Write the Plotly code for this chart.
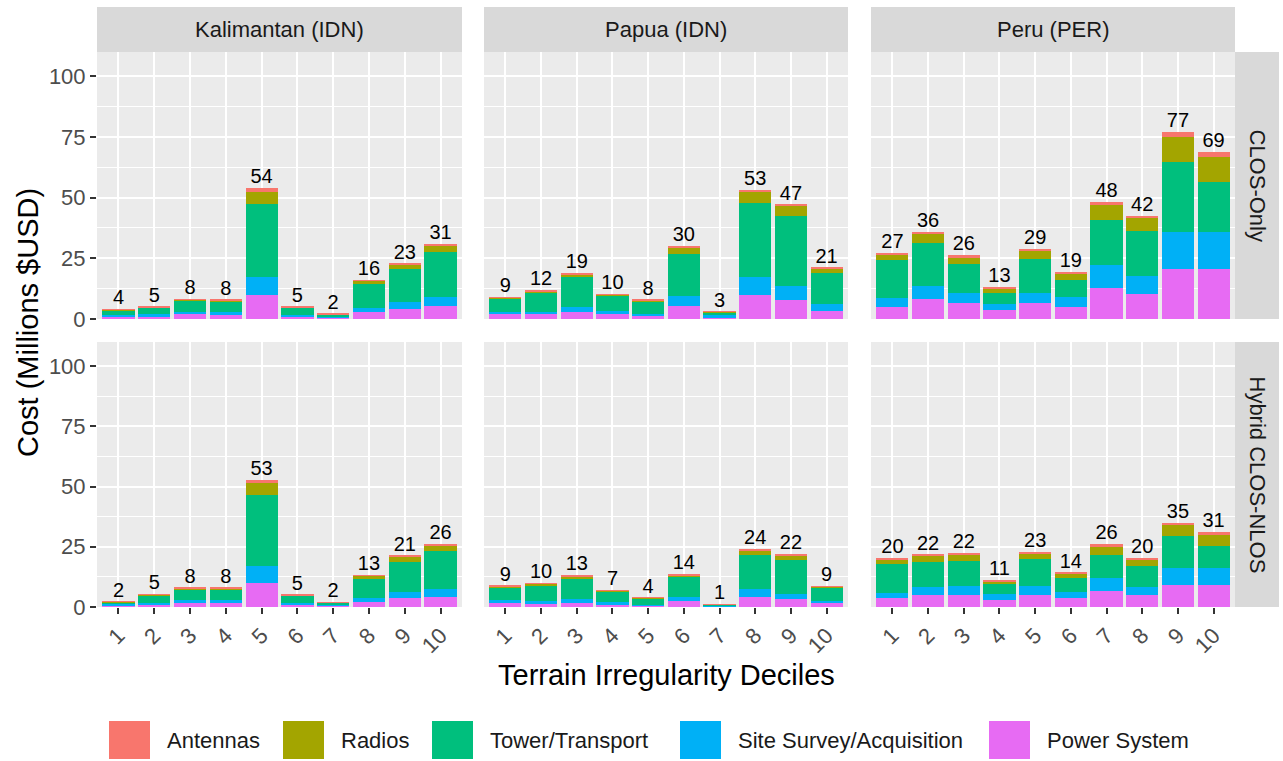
import plotly.graph_objects as go

W, H = 1283, 761
FONT = "Liberation Sans, Arial, sans-serif"

deciles = [str(i) for i in range(1, 11)]
regions = ["Kalimantan (IDN)", "Papua (IDN)", "Peru (PER)"]
strategies = ["CLOS-Only", "Hybrid CLOS-NLOS"]
components = ["Power System", "Site Survey/Acquisition", "Tower/Transport", "Radios", "Antennas"]
legend_order = ["Antennas", "Radios", "Tower/Transport", "Site Survey/Acquisition", "Power System"]
colors = {
    "Antennas": "#F8766D",
    "Radios": "#A3A500",
    "Tower/Transport": "#00BF7D",
    "Site Survey/Acquisition": "#00B0F6",
    "Power System": "#E76BF3",
}

# ---- CLOS-Only ----
kal_clos_power = [1.0, 1.2, 2.0, 1.8, 10.0, 1.0, 0.5, 2.8, 4.3, 5.4]
kal_clos_site = [0.7, 0.8, 1.0, 1.0, 7.5, 0.8, 0.4, 1.9, 2.9, 3.8]
kal_clos_tower = [2.0, 2.6, 4.6, 4.4, 30.0, 2.8, 1.0, 9.6, 13.3, 18.6]
kal_clos_radios = [0.2, 0.3, 0.3, 0.5, 5.0, 0.3, 0.1, 1.4, 1.8, 2.5]
kal_clos_ant = [0.1, 0.2, 0.2, 0.2, 1.4, 0.2, 0.1, 0.3, 0.5, 0.5]

pap_clos_power = [1.9, 1.9, 3.0, 1.9, 1.2, 5.5, 0.6, 9.9, 7.9, 3.4]
pap_clos_site = [1.1, 0.9, 2.1, 1.4, 0.9, 4.1, 1.2, 7.3, 5.5, 2.7]
pap_clos_tower = [5.5, 8.1, 12.1, 6.4, 5.3, 17.1, 0.9, 30.4, 29.2, 12.8]
pap_clos_radios = [0.3, 0.6, 1.3, 0.4, 0.3, 2.9, 0.2, 4.8, 4.1, 1.8]
pap_clos_ant = [0.2, 0.3, 0.4, 0.2, 0.2, 0.4, 0.1, 0.7, 0.4, 0.4]

per_clos_power = [4.8, 8.1, 6.5, 3.7, 6.5, 5.1, 12.9, 10.3, 20.8, 20.8]
per_clos_site = [3.7, 5.3, 4.1, 2.5, 4.4, 3.9, 9.4, 7.5, 14.9, 15.2]
per_clos_tower = [15.8, 17.9, 12.0, 4.4, 14.0, 7.1, 18.3, 18.6, 28.9, 20.6]
per_clos_radios = [2.4, 3.8, 2.8, 1.9, 3.2, 2.5, 6.5, 5.1, 10.4, 10.3]
per_clos_ant = [0.6, 0.8, 0.8, 0.5, 0.7, 0.6, 1.2, 0.9, 2.0, 2.1]

# ---- Hybrid CLOS-NLOS ----
kal_hyb_power = [0.6, 1.2, 1.8, 1.6, 9.8, 1.0, 0.5, 2.1, 3.6, 4.0]
kal_hyb_site = [0.5, 0.6, 1.1, 1.2, 7.3, 0.7, 0.3, 1.8, 2.7, 3.3]
kal_hyb_tower = [0.9, 2.9, 4.4, 4.4, 29.6, 2.9, 1.0, 7.9, 12.4, 16.0]
kal_hyb_radios = [0.1, 0.3, 0.4, 0.5, 4.8, 0.3, 0.1, 1.1, 2.1, 2.2]
kal_hyb_ant = [0.1, 0.2, 0.2, 0.2, 1.3, 0.2, 0.1, 0.3, 0.4, 0.5]

pap_hyb_power = [1.5, 1.4, 1.8, 1.1, 0.6, 2.3, 0.3, 4.3, 3.3, 1.5]
pap_hyb_site = [1.4, 0.9, 1.4, 0.8, 0.4, 1.8, 0.5, 3.0, 2.3, 1.0]
pap_hyb_tower = [5.2, 6.8, 8.5, 4.6, 2.6, 8.2, 0.3, 14.2, 14.1, 5.4]
pap_hyb_radios = [0.5, 0.6, 1.1, 0.3, 0.2, 0.9, 0.05, 2.1, 1.7, 0.6]
pap_hyb_ant = [0.2, 0.2, 0.3, 0.2, 0.1, 0.4, 0.05, 0.5, 0.4, 0.2]

per_hyb_power = [3.6, 4.8, 5.0, 2.9, 4.8, 3.6, 6.7, 4.8, 9.1, 9.1]
per_hyb_site = [2.3, 3.6, 3.8, 2.5, 4.0, 2.7, 5.4, 3.6, 6.9, 6.9]
per_hyb_tower = [11.9, 10.3, 10.1, 4.0, 11.0, 5.8, 9.4, 8.7, 13.3, 9.3]
per_hyb_radios = [2.0, 2.5, 2.9, 1.3, 2.5, 1.7, 3.7, 2.7, 5.0, 4.7]
per_hyb_ant = [0.5, 0.5, 0.5, 0.4, 0.5, 0.5, 0.8, 0.6, 0.7, 1.0]

panels = [
    [  # CLOS-Only row
        [kal_clos_power, kal_clos_site, kal_clos_tower, kal_clos_radios, kal_clos_ant],
        [pap_clos_power, pap_clos_site, pap_clos_tower, pap_clos_radios, pap_clos_ant],
        [per_clos_power, per_clos_site, per_clos_tower, per_clos_radios, per_clos_ant],
    ],
    [  # Hybrid row
        [kal_hyb_power, kal_hyb_site, kal_hyb_tower, kal_hyb_radios, kal_hyb_ant],
        [pap_hyb_power, pap_hyb_site, pap_hyb_tower, pap_hyb_radios, pap_hyb_ant],
        [per_hyb_power, per_hyb_site, per_hyb_tower, per_hyb_radios, per_hyb_ant],
    ],
]

# ---- layout geometry (pixels) ----
col_px = [(97, 462), (484, 848), (871, 1235)]
row_px = [(52, 319), (342, 607)]
strip_top_px = (7, 52)
strip_right_px = (1235, 1279)


def px_x(p):
    return p / W


def px_y(p):
    return 1 - p / H


fig = go.Figure()
layout_axes = {}

for r in range(2):
    for c in range(3):
        k = r * 3 + c + 1
        xa = "x" if k == 1 else f"x{k}"
        ya = "y" if k == 1 else f"y{k}"
        series = panels[r][c]
        for comp, vals in zip(components, series):
            fig.add_trace(go.Bar(
                x=deciles, y=vals, name=comp, marker_color=colors[comp],
                marker_line_width=0, xaxis=xa, yaxis=ya, showlegend=False,
                legendgroup=comp, width=0.9,
            ))
        totals = [sum(v) for v in zip(*series)]
        labels = [str(int(t + 0.5)) for t in totals]
        fig.add_trace(go.Scatter(
            x=deciles, y=totals, text=labels, mode="text",
            textposition="top center", xaxis=xa, yaxis=ya, showlegend=False,
            textfont=dict(family=FONT, size=20, color="#000000"),
            cliponaxis=False, hoverinfo="skip",
        ))
        xkey = "xaxis" if k == 1 else f"xaxis{k}"
        ykey = "yaxis" if k == 1 else f"yaxis{k}"
        layout_axes[xkey] = dict(
            domain=[px_x(col_px[c][0]), px_x(col_px[c][1])],
            anchor=ya, type="category", categoryorder="array", categoryarray=deciles,
            range=[-0.6, 9.6], showgrid=True, gridcolor="white", gridwidth=1.8,
            showticklabels=(r == 1), ticks="outside" if r == 1 else "",
            ticklen=6, tickwidth=1.5, tickcolor="#333333", tickangle=-45,
            tickfont=dict(family=FONT, size=22, color="#4D4D4D"),
            zeroline=False, showline=False, fixedrange=True, automargin=False,
        )
        layout_axes[ykey] = dict(
            domain=[px_y(row_px[r][1]), px_y(row_px[r][0])],
            anchor=xa, range=[0, 110], tickvals=[0, 25, 50, 75, 100],
            showgrid=True, gridcolor="white", gridwidth=1.8,
            minor=dict(dtick=12.5, tick0=0, showgrid=True, gridcolor="white", gridwidth=0.9),
            showticklabels=(c == 0), ticks="outside" if c == 0 else "",
            ticklen=6, tickwidth=1.5, tickcolor="#333333",
            tickfont=dict(family=FONT, size=22, color="#4D4D4D"),
            zeroline=False, showline=False, fixedrange=True, automargin=False,
        )

shapes = []
annotations = []

# panel backgrounds
for r in range(2):
    for c in range(3):
        shapes.append(dict(
            type="rect", xref="paper", yref="paper", layer="below",
            x0=px_x(col_px[c][0]), x1=px_x(col_px[c][1]),
            y0=px_y(row_px[r][1]), y1=px_y(row_px[r][0]),
            fillcolor="#EBEBEB", line_width=0,
        ))

# top strips
for c, reg in enumerate(regions):
    shapes.append(dict(
        type="rect", xref="paper", yref="paper",
        x0=px_x(col_px[c][0]), x1=px_x(col_px[c][1]),
        y0=px_y(strip_top_px[1]), y1=px_y(strip_top_px[0]),
        fillcolor="#D9D9D9", line_width=0,
    ))
    annotations.append(dict(
        text=reg, xref="paper", yref="paper", showarrow=False,
        x=px_x((col_px[c][0] + col_px[c][1]) / 2),
        y=px_y((strip_top_px[0] + strip_top_px[1]) / 2),
        xanchor="center", yanchor="middle",
        font=dict(family=FONT, size=22, color="#1A1A1A"),
    ))

# right strips
for r, strat in enumerate(strategies):
    shapes.append(dict(
        type="rect", xref="paper", yref="paper",
        x0=px_x(strip_right_px[0]), x1=px_x(strip_right_px[1]),
        y0=px_y(row_px[r][1]), y1=px_y(row_px[r][0]),
        fillcolor="#D9D9D9", line_width=0,
    ))
    annotations.append(dict(
        text=strat, xref="paper", yref="paper", showarrow=False, textangle=90,
        x=px_x((strip_right_px[0] + strip_right_px[1]) / 2),
        y=px_y((row_px[r][0] + row_px[r][1]) / 2),
        xanchor="center", yanchor="middle",
        font=dict(family=FONT, size=22, color="#1A1A1A"),
    ))

# axis titles
annotations.append(dict(
    text="Terrain Irregularity Deciles", xref="paper", yref="paper", showarrow=False,
    x=px_x(666), y=px_y(675), xanchor="center", yanchor="middle",
    font=dict(family=FONT, size=29, color="#000000"),
))
annotations.append(dict(
    text="Cost (Millions $USD)", xref="paper", yref="paper", showarrow=False, textangle=-90,
    x=px_x(28), y=px_y(323), xanchor="center", yanchor="middle",
    font=dict(family=FONT, size=29, color="#000000"),
))

# legend (drawn as keys + labels)
key_x = [109, 283, 432, 680, 989]
key_w = 41
key_y = (721, 759)
for comp, kx in zip(legend_order, key_x):
    shapes.append(dict(
        type="rect", xref="paper", yref="paper",
        x0=px_x(kx), x1=px_x(kx + key_w),
        y0=px_y(key_y[1]), y1=px_y(key_y[0]),
        fillcolor=colors[comp], line_width=0,
    ))
    annotations.append(dict(
        text=comp, xref="paper", yref="paper", showarrow=False,
        x=px_x(kx + key_w + 15), y=px_y((key_y[0] + key_y[1]) / 2),
        xanchor="left", yanchor="middle",
        font=dict(family=FONT, size=22, color="#1A1A1A"),
    ))

fig.update_layout(
    width=W, height=H, margin=dict(l=0, r=0, t=0, b=0, pad=0, autoexpand=False),
    paper_bgcolor="white", plot_bgcolor="rgba(0,0,0,0)",
    barmode="stack", showlegend=False,
    shapes=shapes, annotations=annotations,
    font=dict(family=FONT),
    **layout_axes,
)

fig.write_html("out.html")
